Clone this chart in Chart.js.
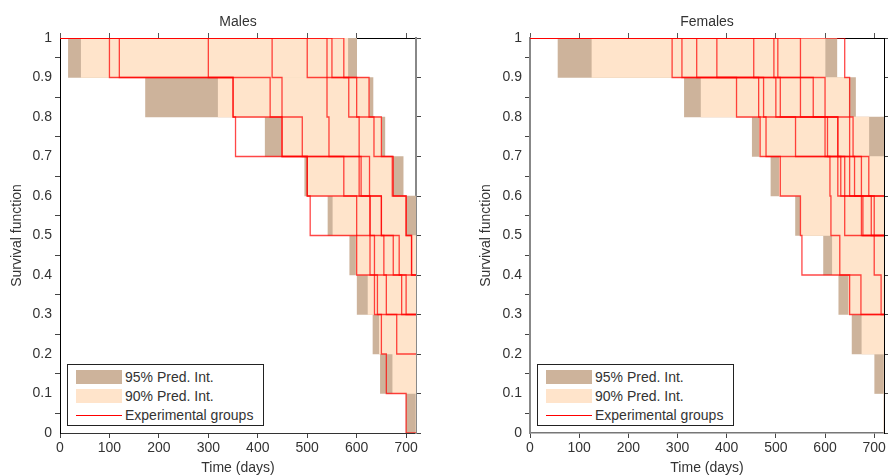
<!DOCTYPE html>
<html>
<head>
<meta charset="utf-8">
<script src="https://cdn.jsdelivr.net/npm/chart.js@4.4.1/dist/chart.umd.min.js"></script>
<style>
  body { margin: 0; background: #fff; width: 888px; height: 475px; overflow: hidden; position: relative;
         font-family: "Liberation Sans", Arial, sans-serif; }
  .panel { position: absolute; top: 0; width: 444px; height: 475px; }
  .legend { position: absolute; width: 197px; height: 62px; border: 1px solid #222; background: #fff;
            font-size: 14px; color: #333; box-sizing: border-box; }
  .legend .row { position: absolute; left: 0; height: 19px; width: 100%; }
  .legend .sw { position: absolute; left: 8px; top: 2px; width: 46px; height: 14px; }
  .legend .ln { position: absolute; left: 8px; top: 9px; width: 46px; height: 1px; background: #ff0000; }
  .legend .tx { position: absolute; left: 57px; top: 0; line-height: 19px; white-space: nowrap; }
</style>
</head>
<body>
<div class="panel" style="left:0"><canvas id="males" width="444" height="475"></canvas></div>
<div class="panel" style="left:444px"><canvas id="females" width="444" height="475"></canvas></div>

<div class="legend" style="left:67px; top:364px">
  <div class="row" style="top:3px"><div class="sw" style="background:#cdb39b"></div><span class="tx">95% Pred. Int.</span></div>
  <div class="row" style="top:22px"><div class="sw" style="background:#ffe4cb"></div><span class="tx">90% Pred. Int.</span></div>
  <div class="row" style="top:41px"><div class="ln"></div><span class="tx">Experimental groups</span></div>
</div>
<div class="legend" style="left:537px; top:364px">
  <div class="row" style="top:3px"><div class="sw" style="background:#cdb39b"></div><span class="tx">95% Pred. Int.</span></div>
  <div class="row" style="top:22px"><div class="sw" style="background:#ffe4cb"></div><span class="tx">90% Pred. Int.</span></div>
  <div class="row" style="top:41px"><div class="ln"></div><span class="tx">Experimental groups</span></div>
</div>

<script>
const xTicks = [0, 100, 200, 300, 400, 500, 600, 700];
const yTicks = [0, 0.1, 0.2, 0.3, 0.4, 0.5, 0.6, 0.7, 0.8, 0.9, 1];
const yLabels = ['0', '0.1', '0.2', '0.3', '0.4', '0.5', '0.6', '0.7', '0.8', '0.9', '1'];
const xMax = 720;

// centre of each 0.1 survival band, top to bottom
const rowMid = [0.95, 0.85, 0.75, 0.65, 0.55, 0.45, 0.35, 0.25, 0.15, 0.05];

// prediction intervals per band (days)
const maleLo95 = [17, 173, 415, 495, 542, 586, 601, 633, 648, 700];
const maleLo90 = [43, 320, 448, 502, 552, 599, 623, 646, 673, 720];
const maleHi90 = [582, 625, 650, 673, 700, 720, 720, 720, 720, 720];
const maleHi95 = [600, 633, 657, 694, 720, 720, 720, 720, 720, 720];

const femaleLo95 = [57, 314, 452, 490, 540, 597, 628, 655, 701, 720];
const femaleLo90 = [126, 348, 467, 507, 550, 615, 648, 675, 720, 720];
const femaleHi90 = [600, 648, 689, 720, 720, 720, 720, 720, 720, 720];
const femaleHi95 = [624, 662, 720, 720, 720, 720, 720, 720, 720, 720];

// death times of each experimental group (10 animals per group)
const maleDeaths = [
  [100, 350, 355, 500, 506, 600, 636, 650, 660, 700],
  [120, 350, 490, 500, 627, 636, 642, 681],
  [300, 425, 449, 574, 600, 674, 691],
  [429, 449, 449, 605, 650, 686, 700],
  [500, 584, 650, 672, 700, 711],
  [540, 540, 544, 609, 627, 627],
  [550, 625, 635, 674, 700, 711],
  [574, 600, 605, 626, 650, 655, 660]
];
const femaleDeaths = [
  [289, 420, 468, 509, 550, 553, 673],
  [309, 465, 480, 610, 612, 630, 650],
  [339, 475, 540, 626, 640, 700, 714],
  [380, 500, 600, 632, 674],
  [455, 509, 605, 640, 677],
  [496, 550, 626, 650, 694],
  [504, 576, 650, 660, 700],
  [550, 600, 626, 674],
  [640, 650, 657, 689]
];

function stepPoints(deaths) {
  const pts = [{ x: 0, y: 1 }];
  let s = 1;
  deaths.forEach(t => {
    pts.push({ x: t, y: s });
    s = Math.round((s - 0.1) * 10) / 10;
    pts.push({ x: t, y: s });
  });
  pts.push({ x: xMax, y: s });
  return pts;
}

function band(lo, hi) {
  return rowMid.map((y, i) => ({ y: y, x: [lo[i], hi[i]] }));
}

const font = { family: "'Liberation Sans', Arial, sans-serif", size: 14 };
const txt = '#333';

function makeChart(id, title, lo95, lo90, hi90, hi95, deaths, s) {
  const datasets = [
    { type: 'bar', indexAxis: 'y', data: band(lo95, hi95), backgroundColor: '#cdb39b',
      barPercentage: 1, categoryPercentage: 1, grouped: false, borderWidth: 0, order: 3 },
    { type: 'bar', indexAxis: 'y', data: band(lo90, hi90), backgroundColor: '#ffe4cb',
      barPercentage: 1, categoryPercentage: 1, grouped: false, borderWidth: 0, order: 2 }
  ];
  deaths.forEach(d => datasets.push({
    type: 'line', data: stepPoints(d), borderColor: 'rgba(255,0,0,0.72)', borderWidth: 1.3,
    pointRadius: 0, fill: false, tension: 0, order: 1
  }));

  const setX = sc => { sc.ticks = xTicks.map(v => ({ value: v })); };
  const setY = sc => { sc.ticks = yTicks.map(v => ({ value: v })); };
  const grid = c => ({ drawOnChartArea: false, tickLength: 5, color: c });

  new Chart(document.getElementById(id), {
    type: 'line',
    data: { datasets },
    options: {
      responsive: false,
      animation: false,
      events: [],
      plugins: { legend: { display: false }, tooltip: { enabled: false } },
      scales: {
        x: {
          type: 'linear', position: 'bottom', min: 0, max: xMax, offset: false, z: 1,
          afterBuildTicks: setX, afterFit: sc => { sc.height = 42; },
          ticks: { font, color: txt, padding: 2, maxRotation: 0 },
          grid: grid('#444'), border: { color: s.bottom, width: s.bottomW },
          title: { display: true, text: 'Time (days)', font, color: txt, padding: { top: 0, bottom: -2 } }
        },
        xTop: {
          type: 'linear', position: 'top', min: 0, max: xMax, offset: false, z: 1,
          afterBuildTicks: setX, afterFit: sc => { sc.height = 38; },
          ticks: { display: false },
          grid: grid('#555'), border: { color: '#000', width: 1 },
          title: { display: true, text: title, font, color: txt, padding: { top: 14, bottom: 0 } }
        },
        y: {
          type: 'linear', position: 'left', min: 0, max: 1, offset: false, z: 1,
          afterBuildTicks: setY, afterFit: sc => { sc.width = s.leftW; },
          ticks: { font, color: txt, padding: 3, callback: (v, i) => yLabels[i] },
          grid: grid('#444'), border: { color: s.left, width: s.leftBW },
          title: { display: true, text: 'Survival function', font, color: txt, padding: { top: s.yTitlePad, bottom: 0 } }
        },
        yRight: {
          type: 'linear', position: 'right', min: 0, max: 1, offset: false, z: 1,
          afterBuildTicks: setY, afterFit: sc => { sc.width = s.rightW; },
          ticks: { display: false },
          grid: grid('#444'), border: { color: s.right, width: s.rightBW }
        }
      }
    }
  });
}

makeChart('males', 'Males', maleLo95, maleLo90, maleHi90, maleHi95, maleDeaths,
  { leftW: 60, rightW: 28, left: '#000', leftBW: 1, right: '#888', rightBW: 2,
    bottom: '#333', bottomW: 1, yTitlePad: 9 });
makeChart('females', 'Females', femaleLo95, femaleLo90, femaleHi90, femaleHi95, femaleDeaths,
  { leftW: 86, rightW: 1, left: '#888', leftBW: 2, right: '#000', rightBW: 1,
    bottom: '#777', bottomW: 1.5, yTitlePad: 34 });
</script>
</body>
</html>
